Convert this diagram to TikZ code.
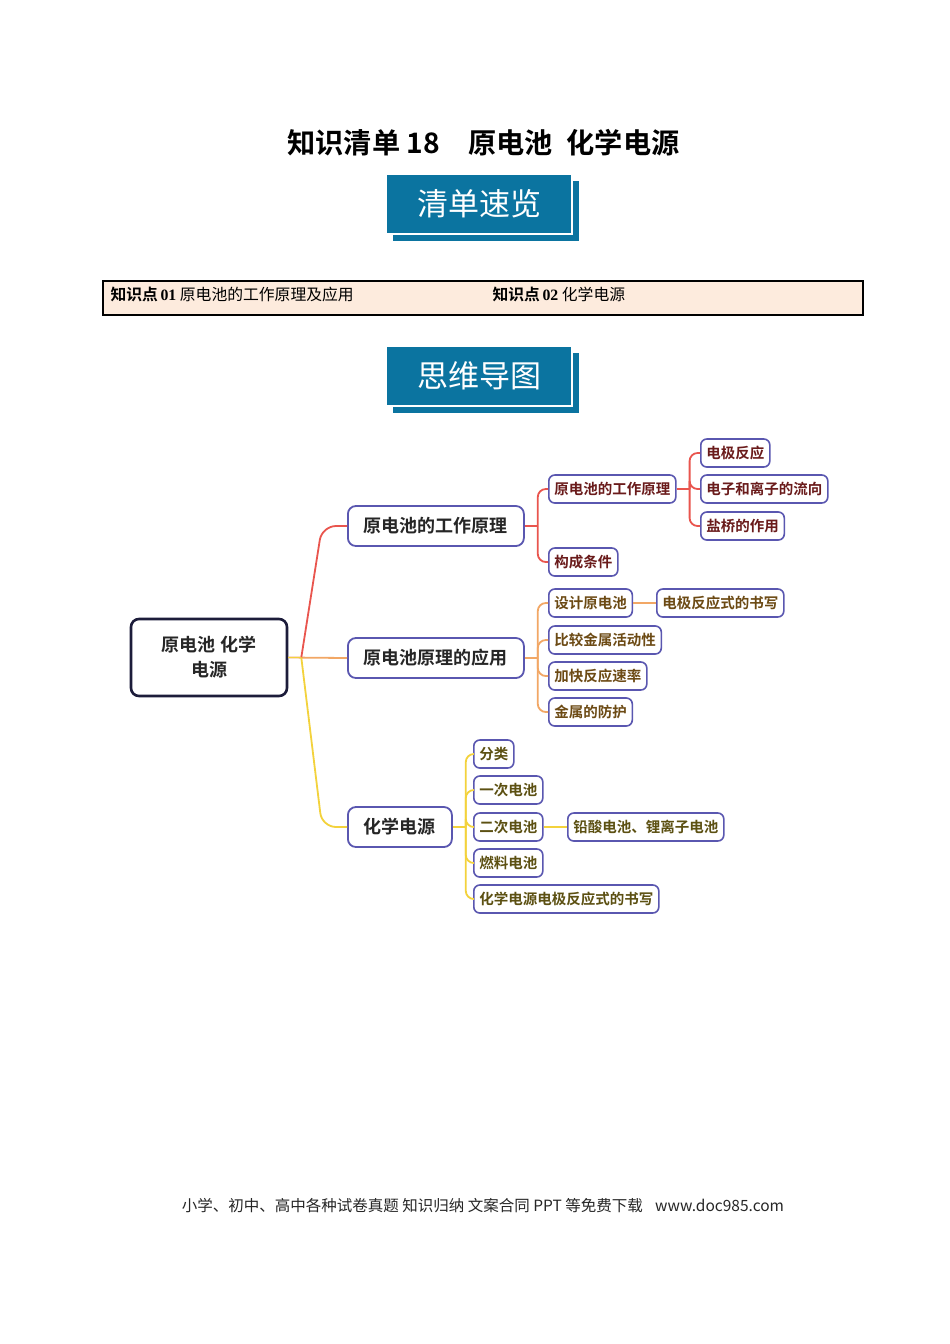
\documentclass[tikz,border=0pt]{standalone}
\usepackage{fontspec}
\setmainfont{Noto Sans CJK SC}[BoldFont={Noto Sans CJK SC Bold}]
\newfontfamily\numfont{Liberation Serif}
\usetikzlibrary{positioning,calc}
\definecolor{bannerblue}{HTML}{0B74A0}
\definecolor{barfill}{HTML}{FDEBDD}
\definecolor{boxline}{HTML}{5A57B0}
\definecolor{rootline}{HTML}{1C1C3A}
\definecolor{redline}{HTML}{E9554E}
\definecolor{orangeline}{HTML}{F2A765}
\definecolor{yellowline}{HTML}{F3D23C}
\definecolor{redtext}{HTML}{6A1B1B}
\definecolor{orangetext}{HTML}{6C4A14}
\definecolor{yellowtext}{HTML}{5C5012}

\begin{document}
\begin{tikzpicture}[x=1pt,y=-1pt,
  banner/.style={fill=bannerblue,draw=white,line width=1.5pt,minimum width=186pt,minimum height=60pt,text=white,font=\fontsize{31}{33}\selectfont},
  bannershadow/.style={fill=bannerblue,minimum width=186pt,minimum height=60pt},
  rootbox/.style={draw=rootline,line width=2.6pt,rounded corners=8pt,minimum width=156pt,minimum height=77pt,align=center,font=\bfseries\fontsize{18}{25}\selectfont,text=black!85},
  topic/.style={draw=boxline,line width=1.8pt,rounded corners=8pt,fill=white,anchor=west,inner xsep=16pt,minimum height=40pt,font=\bfseries\fontsize{18}{20}\selectfont,text=black!85},
  leaf/.style={draw=boxline,line width=1.6pt,rounded corners=6pt,fill=white,anchor=west,inner xsep=5.5pt,minimum height=28pt,font=\bfseries\fontsize{14.5}{16}\selectfont},
  link/.style={line width=1.8pt,rounded corners=8pt},
  rootlink/.style={line width=1.8pt,rounded corners=14pt}
]
\useasboundingbox[fill=white] (0,0) rectangle (950,1344);

\node[font=\bfseries\fontsize{28.2}{30}\selectfont] (title) at (483.5,143) {知识清单 18\hspace{1em}原电池\hspace{0.5em}化学电源};

\node[bannershadow] (shadow1) at (486,211) {};
\node[banner] (banner1) at (479,204) {清单速览};

\draw[fill=barfill,line width=1.8pt] (103,281) rectangle (863,315);
\node[anchor=west,font=\fontsize{15.8}{17}\selectfont] (point1) at (107,294) {\textbf{知识点}\,{\numfont\bfseries 01} 原电池的工作原理及应用};
\node[anchor=west,font=\fontsize{15.8}{17}\selectfont] (point2) at (489,294) {\textbf{知识点}\,{\numfont\bfseries 02} 化学电源};

\node[bannershadow] (shadow2) at (486,383) {};
\node[banner] (banner2) at (479,376) {思维导图};

\node[rootbox] (root) at (209,657.5) {原电池 化学\\电源};
\node[topic] (work) at (347,526) {原电池的工作原理};
\node[topic] (apply) at (347,658) {原电池原理的应用};
\node[topic] (source) at (347,827) {化学电源};

\node[leaf,text=redtext] (principle) at (548,489) {原电池的工作原理};
\node[leaf,text=redtext] (condition) at (548,562) {构成条件};
\node[leaf,text=redtext] (reaction) at (700,453) {电极反应};
\node[leaf,text=redtext] (flow) at (700,489) {电子和离子的流向};
\node[leaf,text=redtext] (bridge) at (700,526) {盐桥的作用};

\node[leaf,text=orangetext] (design) at (548,603) {设计原电池};
\node[leaf,text=orangetext] (compare) at (548,640) {比较金属活动性};
\node[leaf,text=orangetext] (speed) at (548,676) {加快反应速率};
\node[leaf,text=orangetext] (protect) at (548,712) {金属的防护};
\node[leaf,text=orangetext] (equation) at (656,603) {电极反应式的书写};

\node[leaf,text=yellowtext] (kind) at (473,754) {分类};
\node[leaf,text=yellowtext] (primary) at (473,790) {一次电池};
\node[leaf,text=yellowtext] (secondary) at (473,827) {二次电池};
\node[leaf,text=yellowtext] (fuel) at (473,863) {燃料电池};
\node[leaf,text=yellowtext] (writing) at (473,899) {化学电源电极反应式的书写};
\node[leaf,text=yellowtext] (lead) at (567,827) {铅酸电池、锂离子电池};

\coordinate (rj) at ($(root.east)+(13,0)$);
\draw[link,orangeline] (root.east) -- (apply.west);
\draw[rootlink,redline] (rj) -- ($(work.west)+(-25,0)$) -- (work.west);
\draw[rootlink,yellowline] (rj) -- ($(source.west)+(-25,0)$) -- (source.west);
\draw[link,yellowline] (root.east) -- (rj);

\coordinate (wj) at ($(work.east)+(13,0)$);
\draw[link,redline] (work.east) -- (wj);
\foreach \n in {principle,condition}
  \draw[link,redline] (wj) |- (\n.west);
\coordinate (pj) at ($(principle.east)+(13,0)$);
\draw[link,redline] (principle.east) -- (pj);
\foreach \n in {reaction,flow,bridge}
  \draw[link,redline] (pj) |- (\n.west);

\coordinate (aj) at ($(apply.east)+(13,0)$);
\draw[link,orangeline] (apply.east) -- (aj);
\foreach \n in {design,compare,speed,protect}
  \draw[link,orangeline] (aj) |- (\n.west);
\draw[link,orangeline] (design.east) -- (equation.west);

\coordinate (sj) at ($(source.east)+(13,0)$);
\draw[link,yellowline] (source.east) -- (sj);
\foreach \n in {kind,primary,secondary,fuel,writing}
  \draw[link,yellowline] (sj) |- (\n.west);
\draw[link,yellowline] (secondary.east) -- (lead.west);

\node[font=\fontsize{15.5}{17}\selectfont,text=black!85] (footer) at (483,1206) {小学、初中、高中各种试卷真题 知识归纳 文案合同 PPT 等免费下载\hspace{0.8em}www.doc985.com};
\end{tikzpicture}
\end{document}
